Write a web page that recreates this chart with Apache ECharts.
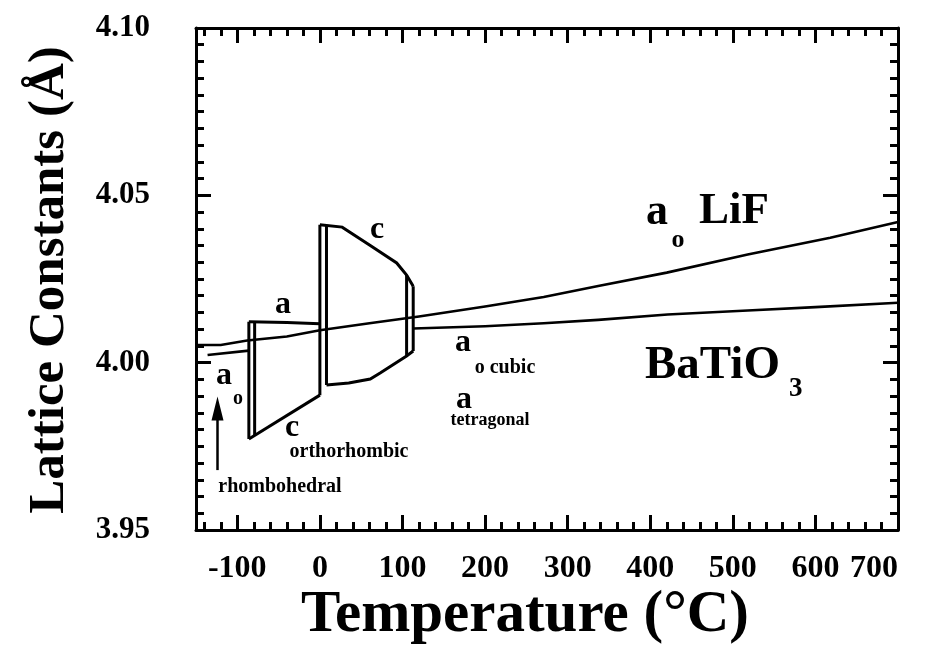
<!DOCTYPE html>
<html>
<head>
<meta charset="utf-8">
<script src="https://cdn.jsdelivr.net/npm/echarts@6/dist/echarts.min.js"></script>
<style>
  html, body { margin: 0; padding: 0; background: #ffffff; }
  #chart { width: 932px; height: 645px; }
</style>
</head>
<body>
<div id="chart"></div>
<script>
// Temperature axis (°C) tick positions
const xMajorTicks = [-100, 0, 100, 200, 300, 400, 500, 600, 700];
const xMinorTicks = [-140, -120, -80, -60, -40, -20, 20, 40, 60, 80, 120, 140, 160, 180,
  220, 240, 260, 280, 320, 340, 360, 380, 420, 440, 460, 480, 520, 540, 560, 580,
  620, 640, 660, 680];

// a_o of LiF versus temperature
const lifA = [[-150, 4.0053], [-120, 4.0053], [-88, 4.0066], [-40, 4.0078], [0, 4.0097],
  [60, 4.0118], [120, 4.0138], [200, 4.0168], [271, 4.0196], [337, 4.0229],
  [420, 4.0269], [518, 4.0323], [618, 4.0373], [700, 4.0420]];

// BaTiO3 lattice constants, one array per phase branch
const rhombA = [[-136, 4.0023], [-86, 4.0036]];
const orthoA = [[-86, 4.0122], [-40, 4.0120], [0, 4.0116]];
const orthoC = [[-86, 3.9772], [0, 3.9903]];
const tetraC = [[0, 4.0412], [27, 4.0405], [61, 4.0350], [93, 4.0298], [105, 4.0262], [113, 4.0228]];
const tetraA = [[8, 3.9933], [35, 3.9939], [61, 3.9951], [73, 3.9969], [105, 4.0020], [113, 4.0035]];
const cubicA = [[113, 4.0102], [200, 4.0109], [271, 4.0118], [337, 4.0128], [421, 4.0144],
  [518, 4.0156], [600, 4.0166], [700, 4.0179]];

// Phase-transition jumps (heating / cooling branches)
const jumpRO1 = [[-86, 4.0122], [-86, 3.9772]];
const jumpRO2 = [[-79, 4.0121], [-79, 3.9783]];
const jumpOT1 = [[0, 4.0412], [0, 3.9903]];
const jumpOT2 = [[8, 4.0410], [8, 3.9933]];
const jumpTC1 = [[105, 4.0262], [105, 4.0020]];
const jumpTC2 = [[113, 4.0228], [113, 4.0035]];

// rhombohedral arrow (tail, head centre)
const arrowRhomb = [[-124, 3.9679], [-124, 3.9863]];

const serif = '"Liberation Serif", "DejaVu Serif", serif';
const lineW = 2.6;

function curve(name, data, w) {
  return {
    name: name, type: 'line', data: data, xAxisIndex: 0, yAxisIndex: 0,
    symbol: 'none', smooth: false, silent: true,
    lineStyle: { color: '#000', width: w || lineW, join: 'miter' }
  };
}

const chart = echarts.init(document.getElementById('chart'), null, { renderer: 'canvas' });

const frame = { color: '#000', width: 3 };
const xBase = { type: 'value', min: -150, max: 700, gridIndex: 0, splitLine: { show: false } };
const yBase = { type: 'value', min: 3.95, max: 4.10, interval: 0.05, gridIndex: 0, splitLine: { show: false } };

const option = {
  backgroundColor: '#ffffff',
  animation: false,
  grid: { left: 196, right: 34, top: 28, bottom: 115, containLabel: false, outerBoundsMode: 'none', show: false },
  xAxis: [
    Object.assign({}, xBase, {
      position: 'bottom',
      axisLine: { show: true, onZero: false, lineStyle: frame },
      axisTick: { show: true, inside: true, length: 15, customValues: xMajorTicks, lineStyle: frame },
      axisLabel: { show: true, customValues: xMajorTicks, margin: 23, alignMaxLabel: 'right',
        fontFamily: serif, fontWeight: 'bold', fontSize: 32, color: '#000' }
    }),
    Object.assign({}, xBase, {
      position: 'bottom',
      axisLine: { show: false, onZero: false },
      axisTick: { show: true, inside: true, length: 8, customValues: xMinorTicks, lineStyle: frame },
      axisLabel: { show: false }
    }),
    Object.assign({}, xBase, {
      position: 'top',
      axisLine: { show: true, onZero: false, lineStyle: frame },
      axisTick: { show: true, inside: true, length: 15, customValues: xMajorTicks, lineStyle: frame },
      axisLabel: { show: false }
    }),
    Object.assign({}, xBase, {
      position: 'top',
      axisLine: { show: false, onZero: false },
      axisTick: { show: true, inside: true, length: 8, customValues: xMinorTicks, lineStyle: frame },
      axisLabel: { show: false }
    })
  ],
  yAxis: [
    Object.assign({}, yBase, {
      position: 'left',
      axisLine: { show: true, onZero: false, lineStyle: frame },
      axisTick: { show: true, inside: true, length: 15, lineStyle: frame },
      minorTick: { show: true, splitNumber: 10, length: 8, lineStyle: frame },
      axisLabel: { show: true, margin: 46, fontFamily: serif, fontWeight: 'bold', fontSize: 31, color: '#000',
        formatter: v => v.toFixed(2) }
    }),
    Object.assign({}, yBase, {
      position: 'right',
      axisLine: { show: true, onZero: false, lineStyle: frame },
      axisTick: { show: true, inside: true, length: 15, lineStyle: frame },
      minorTick: { show: true, splitNumber: 10, length: 8, lineStyle: frame },
      axisLabel: { show: false }
    })
  ],
  series: [
    curve('LiF', lifA),
    curve('cubic', cubicA),
    curve('rhombohedral a', rhombA),
    curve('orthorhombic a', orthoA, 3),
    curve('orthorhombic c', orthoC, 3),
    curve('tetragonal c', tetraC, 3),
    curve('tetragonal a', tetraA, 3),
    curve('R-O 1', jumpRO1, 3),
    curve('R-O 2', jumpRO2, 3),
    curve('O-T 1', jumpOT1, 3),
    curve('O-T 2', jumpOT2, 3),
    curve('T-C 1', jumpTC1, 3),
    curve('T-C 2', jumpTC2, 3),
    {
      name: 'arrow', type: 'line', data: [], silent: true,
      markLine: {
        silent: true, animation: false,
        symbol: ['none', 'triangle'], symbolSize: [12, 24],
        label: { show: false },
        lineStyle: { color: '#000', width: 2.5, type: 'solid' },
        data: [[{ coord: arrowRhomb[0] }, { coord: arrowRhomb[1] }]]
      }
    }
  ]
};

chart.setOption(option);

// Axis titles and phase / material annotations
function txt(x, y, s, size, align, rot) {
  return {
    type: 'text', x: x, y: y, rotation: rot || 0, silent: true,
    style: { text: s, fontFamily: serif, fontWeight: 'bold', fontSize: size, fill: '#000',
      align: align || 'center', verticalAlign: 'middle' }
  };
}
chart.setOption({
  graphic: [
    txt(525, 616, 'Temperature (°C)', 59),
    txt(50, 280, 'Lattice Constants (Å)', 51, 'center', Math.PI / 2),
    txt(283, 305, 'a', 32),
    txt(377, 230, 'c', 32),
    txt(224, 376, 'a', 32),
    txt(238, 399, 'o', 20),
    txt(280, 487, 'rhombohedral', 20),
    txt(292, 428, 'c', 32),
    txt(349, 452, 'orthorhombic', 20),
    txt(464, 400, 'a', 32),
    txt(490, 420, 'tetragonal', 18),
    txt(463, 343, 'a', 32),
    txt(505, 368, 'o cubic', 20),
    txt(657, 213, 'a', 44),
    txt(678, 240, 'o', 26),
    txt(734, 211, 'LiF', 45),
    txt(645, 366, 'BaTiO', 47, 'left'),
    txt(789, 389, '3', 27, 'left')
  ]
});
</script>
</body>
</html>
